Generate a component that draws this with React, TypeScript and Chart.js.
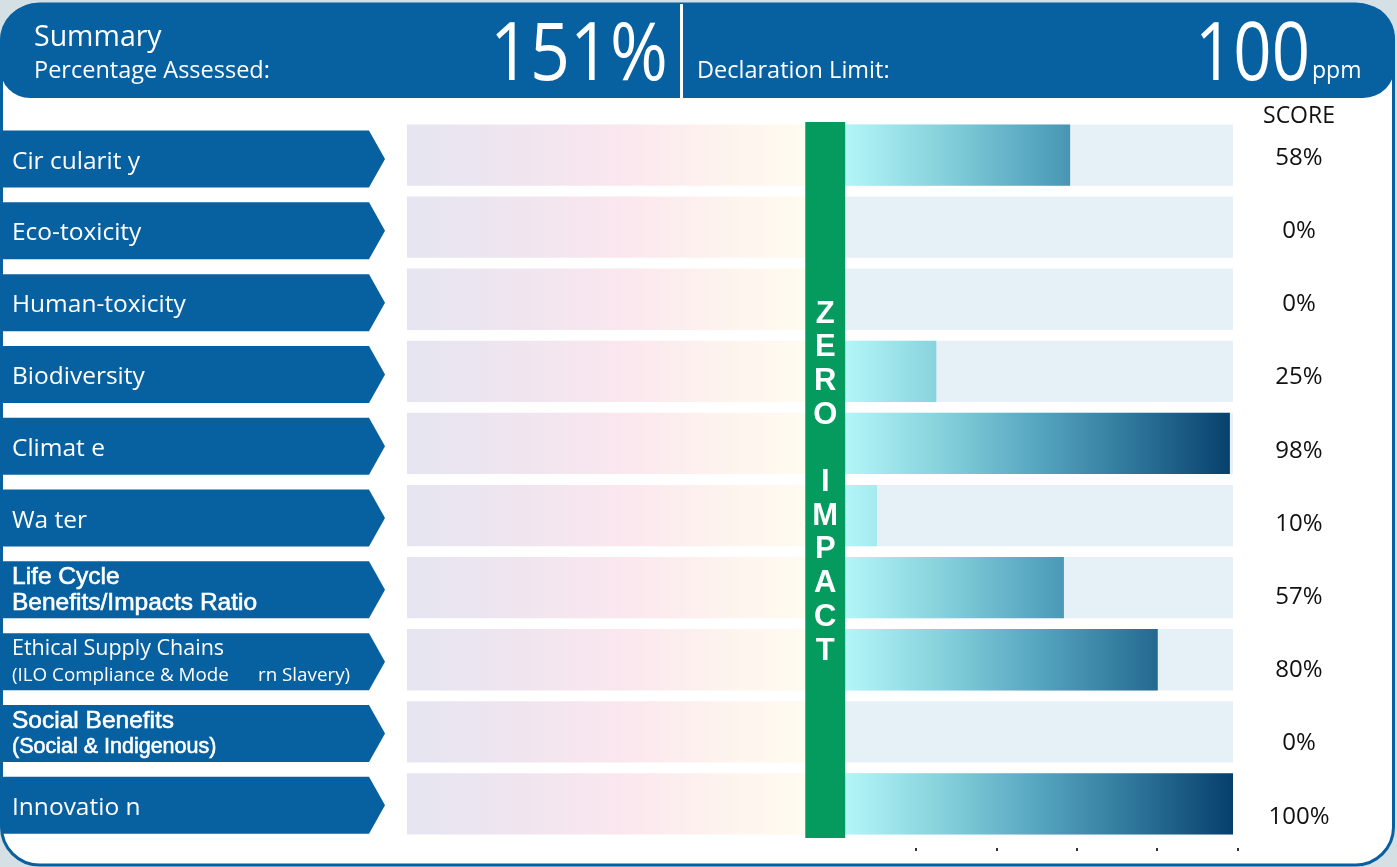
import React, { useEffect, useRef } from 'react';
import { Chart, registerables } from 'chart.js';

Chart.register(...registerables);

// ---------- data ----------
const categories = [
  'Circularity', 'Eco-toxicity', 'Human-toxicity', 'Biodiversity', 'Climate',
  'Water', 'Life Cycle Benefits/Impacts Ratio', 'Ethical Supply Chains',
  'Social Benefits', 'Innovation',
];
const labelLines: string[][] = [
  ['Cir cularit y'],
  ['Eco-toxicity'],
  ['Human-toxicity'],
  ['Biodiversity'],
  ['Climat e'],
  ['Wa ter'],
  ['Life Cycle', 'Benefits/Impacts Ratio'],
  ['Ethical Supply Chains', '(ILO Compliance & Mode      rn Slavery)'],
  ['Social Benefits', '(Social & Indigenous)'],
  ['Innovatio n'],
];
// score text shown in the SCORE column
const scores = [58, 0, 0, 25, 98, 10, 57, 80, 0, 100];
// bar lengths as drawn in the picture (percent of full track)
const barLengths = [58, 0, 0, 23.5, 99.2, 8.2, 56.4, 80.6, 0, 100];
const scoreLabels = scores.map((s) => `${s}%`);
const axisTickValues = [18.3, 39.1, 59.7, 80.3, 101.2];
const summaryTitle = 'Summary';
const percentageLabel = 'Percentage Assessed:';
const percentageValue = '151%';
const limitLabel = 'Declaration Limit:';
const limitValue = '100';
const limitUnit = 'ppm';
const scoreHeader = 'SCORE';
const zeroImpactText = 'ZERO IMPACT';
const negativeMin = -113;
const zeroBandStart = -10.3;
const scoreMax = 100;

// ---------- styling ----------
const BLUE = '#0760a0';
const GREEN = '#069b5e';
const TRACK = '#e6f1f7';
const MYRIAD = '"Open Sans", "Noto Sans", sans-serif';
const ARIAL = '"Liberation Sans", Arial, sans-serif';

function isArialRow(row: number) {
  return row === 6 || row === 8;
}

function lineFont(row: number, line: number, nLines: number): string {
  if (row === 6) return `24.5px ${ARIAL}`;
  if (row === 8) return line === 0 ? `24.5px ${ARIAL}` : `21.5px ${ARIAL}`;
  if (nLines === 2) return line === 0 ? `21.5px ${MYRIAD}` : `18.8px ${MYRIAD}`;
  return `24.5px ${MYRIAD}`;
}

function fitText(ctx: CanvasRenderingContext2D, text: string, x: number, y: number, w: number, align: CanvasTextAlign) {
  const m = ctx.measureText(text).width || 1;
  ctx.save();
  ctx.translate(x, y);
  ctx.scale(w / m, 1);
  ctx.textAlign = align;
  ctx.fillText(text, 0, 0);
  ctx.restore();
}

const infographicPlugin = {
  id: 'infographic',
  beforeDraw(chart: any) {
    const ctx: CanvasRenderingContext2D = chart.ctx;
    const W = chart.width;
    const H = chart.height;
    const ys = chart.scales.y;
    ctx.save();
    // page background
    ctx.fillStyle = '#d5e0e4';
    ctx.fillRect(0, 0, W, H);
    // frame
    ctx.beginPath();
    ctx.roundRect(1.5, 4, 1392, 861, 38);
    ctx.fillStyle = '#ffffff';
    ctx.fill();
    ctx.lineWidth = 3;
    ctx.strokeStyle = BLUE;
    ctx.stroke();
    // header band
    ctx.beginPath();
    ctx.roundRect(0, 4, 1395, 94, [36, 34, 32, 30]);
    ctx.fillStyle = BLUE;
    ctx.fill();
    ctx.fillStyle = '#ffffff';
    ctx.fillRect(680, 4, 3, 94);

    ctx.fillStyle = '#ffffff';
    ctx.textBaseline = 'alphabetic';
    ctx.textAlign = 'left';
    ctx.font = `28.5px ${MYRIAD}`;
    ctx.fillText(summaryTitle, 34, 46);
    ctx.font = `23.5px ${MYRIAD}`;
    ctx.fillText(percentageLabel, 34, 78);
    ctx.fillText(limitLabel, 697, 78);
    ctx.font = `23px ${MYRIAD}`;
    ctx.fillText(limitUnit, 1312, 78);
    ctx.font = `400 81px ${MYRIAD}`;
    fitText(ctx, percentageValue, 668, 80, 178, 'right');
    fitText(ctx, limitValue, 1195, 80, 115, 'left');

    // SCORE header
    ctx.fillStyle = '#111111';
    ctx.font = `23px ${MYRIAD}`;
    ctx.textAlign = 'center';
    ctx.textBaseline = 'middle';
    ctx.fillText(scoreHeader, 1299, 116);

    // row labels (arrows) + scores
    for (let i = 0; i < categories.length; i++) {
      const c = ys.getPixelForValue(i);
      const ac = c + 4 - 0.3 * i;
      ctx.beginPath();
      ctx.moveTo(3, ac - 28.5);
      ctx.lineTo(369, ac - 28.5);
      ctx.lineTo(385, ac);
      ctx.lineTo(369, ac + 28.5);
      ctx.lineTo(3, ac + 28.5);
      ctx.closePath();
      ctx.fillStyle = BLUE;
      ctx.fill();

      const lines = labelLines[i];
      ctx.fillStyle = '#ffffff';
      ctx.strokeStyle = '#ffffff';
      ctx.lineWidth = 0.6;
      ctx.textAlign = 'left';
      ctx.textBaseline = 'middle';
      const draw = (t: string, y: number) => {
        ctx.fillText(t, 12, y);
        if (isArialRow(i)) ctx.strokeText(t, 12, y);
      };
      if (lines.length === 1) {
        ctx.font = lineFont(i, 0, 1);
        draw(lines[0], ac + 2.5);
      } else {
        ctx.font = lineFont(i, 0, 2);
        draw(lines[0], ac - 12.5);
        ctx.font = lineFont(i, 1, 2);
        draw(lines[1], ac + 13.5);
      }

      ctx.fillStyle = '#111111';
      ctx.textAlign = 'center';
      ctx.font = `24px ${MYRIAD}`;
      ctx.fillText(scoreLabels[i], 1299, c + 3 + 1.1 * i);
    }
    ctx.restore();
  },
  afterDatasetsDraw(chart: any) {
    const ctx: CanvasRenderingContext2D = chart.ctx;
    const xs = chart.scales.x;
    const ca = chart.chartArea;
    const x0 = xs.getPixelForValue(zeroBandStart);
    const x1 = xs.getPixelForValue(0);
    ctx.save();
    ctx.fillStyle = GREEN;
    ctx.fillRect(x0, ca.top + 3, x1 - x0, ca.bottom - ca.top - 5);
    // vertical text
    const chars = zeroImpactText.split('');
    const pitch = 33.7;
    const mid = (ca.top + ca.bottom) / 2 + 2;
    const start = mid - ((chars.length - 1) / 2) * pitch;
    ctx.fillStyle = '#ffffff';
    ctx.font = `bold 31px ${ARIAL}`;
    ctx.textAlign = 'center';
    ctx.textBaseline = 'middle';
    chars.forEach((ch, k) => {
      if (ch !== ' ') ctx.fillText(ch, (x0 + x1) / 2, start + k * pitch + 1);
    });
    // small axis tick marks
    ctx.fillStyle = '#333333';
    axisTickValues.forEach((v) => {
      const px = xs.getPixelForValue(v);
      ctx.fillRect(Math.round(px) - 1, ca.bottom + 8, 2, 3);
    });
    ctx.restore();
  },
};

export default function App() {
  const ref = useRef<HTMLCanvasElement>(null);
  useEffect(() => {
    if (!ref.current) return;
    const valueGradient = (c: any) => {
      const ch = c.chart;
      if (!ch.chartArea) return '#4f9fbb';
      const xs = ch.scales.x;
      const g = ch.ctx.createLinearGradient(xs.getPixelForValue(0), 0, xs.getPixelForValue(scoreMax), 0);
      g.addColorStop(0, '#b3f6f8');
      g.addColorStop(0.25, '#86d1dc');
      g.addColorStop(0.5, '#55a5bf');
      g.addColorStop(0.75, '#2d7499');
      g.addColorStop(1, '#063f6b');
      return g;
    };
    const pastelGradient = (c: any) => {
      const ch = c.chart;
      if (!ch.chartArea) return '#f4eaf0';
      const xs = ch.scales.x;
      const g = ch.ctx.createLinearGradient(xs.getPixelForValue(negativeMin), 0, xs.getPixelForValue(0), 0);
      g.addColorStop(0, '#e5e5f1');
      g.addColorStop(0.3, '#f1e5ef');
      g.addColorStop(0.5, '#fbe7ee');
      g.addColorStop(0.72, '#fdf3ee');
      g.addColorStop(0.9, '#fffbef');
      g.addColorStop(1, '#fffdf0');
      return g;
    };
    const chart = new Chart(ref.current, {
      type: 'bar',
      data: {
        labels: categories,
        datasets: [
          {
            label: 'Score',
            data: barLengths,
            backgroundColor: valueGradient,
            borderWidth: 0,
            grouped: false,
            order: 0,
          } as any,
          {
            label: 'Track',
            data: categories.map(() => [0, scoreMax]),
            backgroundColor: TRACK,
            borderWidth: 0,
            grouped: false,
            order: 1,
          } as any,
          {
            label: 'Negative',
            data: categories.map(() => [negativeMin, 0]),
            backgroundColor: pastelGradient,
            borderWidth: 0,
            grouped: false,
            order: 2,
          } as any,
        ],
      },
      options: {
        indexAxis: 'y',
        responsive: false,
        animation: false,
        devicePixelRatio: 1,
        events: [],
        layout: { padding: { left: 407, right: 164, top: 119, bottom: 27 } },
        datasets: { bar: { barPercentage: 0.85, categoryPercentage: 1 } },
        plugins: { legend: { display: false }, tooltip: { enabled: false } },
        scales: {
          x: { type: 'linear', min: negativeMin, max: scoreMax, display: false },
          y: { type: 'category', display: false, offset: true },
        },
      } as any,
      plugins: [infographicPlugin],
    });
    return () => chart.destroy();
  }, []);
  return (
    <div style={{ position: 'absolute', left: 0, top: 0, width: 1397, height: 867 }}>
      <canvas ref={ref} width={1397} height={867} style={{ display: 'block' }} />
    </div>
  );
}
